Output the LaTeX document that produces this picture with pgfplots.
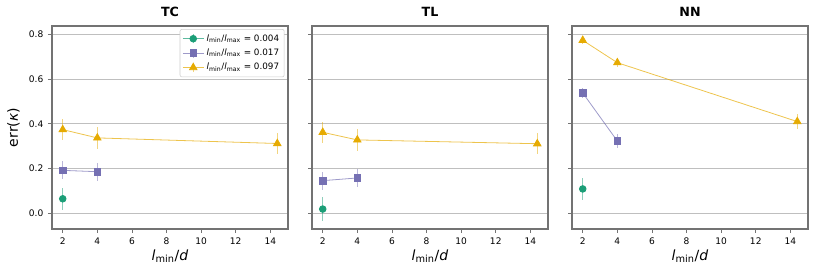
\documentclass[border=0pt]{standalone}
\usepackage{pgfplots}
\pgfplotsset{compat=1.18}
\usepackage{fontspec}
\setmainfont{DejaVu Sans}
\definecolor{cg}{HTML}{1B9E77}
\definecolor{cp}{HTML}{7570B3}
\definecolor{cy}{HTML}{E6AB02}
\pgfplotsset{
 panel/.style={
  scale only axis, width=177pt, height=152.25pt,
  xmin=1.38, xmax=15.02, ymin=-0.07, ymax=0.837,
  xtick={2,4,6,8,10,12,14}, ytick={0,0.2,0.4,0.6,0.8},
  ymajorgrids, grid style={color=black!25, line width=0.8pt},
  axis line style={draw=black!55, line width=0.8pt},
  tick style={draw=black!55, line width=0.6pt}, tick align=outside, tick pos=left, major tick length=3pt,
  ticklabel style={font=\fontsize{6.8}{8}\selectfont},
  /pgf/number format/assume math mode=true,
  y tick label style={/pgf/number format/.cd, fixed, fixed zerofill, precision=1, /tikz/.cd},
  xlabel={\textit{l}\textsubscript{min}/\textit{d}},
  xlabel style={font=\fontsize{10.5}{12}\selectfont, yshift=3pt},
  ylabel style={font=\fontsize{10.5}{12}\selectfont},
  title style={font=\bfseries\fontsize{9.5}{11}\selectfont, yshift=-2.5pt},
  legend image code/.code={
    \draw[mark=none,##1,line width=0.8pt,draw opacity=0.5] (0.275cm,-0.12cm) -- (0.275cm,0.12cm);
    \draw[mark repeat=2,mark phase=2,##1] plot coordinates {(0cm,0cm) (0.275cm,0cm) (0.55cm,0cm)};
  },
 },
 ser/.style={color=#1, line width=0.6pt, draw opacity=0.7,
   mark options={solid, fill=#1, draw opacity=1, fill opacity=1},
   error bars/.cd, y dir=both, y explicit, error mark=none,
   error bar style={line width=0.8pt, draw opacity=0.5}, /pgfplots/.cd},
 sg/.style={mark=*, mark size=2.5pt, ser=cg},
 sp/.style={mark=square*, mark size=2.5pt, ser=cp},
 sy/.style={mark=triangle*, mark size=3.2pt, ser=cy},
}
\begin{document}
\begin{tikzpicture}
\path[use as bounding box] (0,0) rectangle (622.5pt,207.75pt);
% TC
\begin{axis}[panel, at={(39pt,36pt)}, anchor=south west, title={TC},
  ylabel={err(\textit{κ})},
  legend style={at={(0.985,0.985)}, anchor=north east, font=\fontsize{6.6}{7.6}\selectfont,
    draw=black!20, rounded corners=1.5pt, row sep=0.3pt, inner sep=1.8pt},
  legend cell align=left]
\addplot+[sg] coordinates {(2,0.065) +- (0,0.05)};
\addlegendentry{\textit{l}\textsubscript{min}/\textit{l}\textsubscript{max} = 0.004}
\addplot+[sp] coordinates {(2,0.192) +- (0,0.04) (4,0.186) +- (0,0.04)};
\addlegendentry{\textit{l}\textsubscript{min}/\textit{l}\textsubscript{max} = 0.017}
\addplot+[sy] coordinates {(2,0.374) +- (0,0.048) (4,0.337) +- (0,0.048) (14.4,0.312) +- (0,0.048)};
\addlegendentry{\textit{l}\textsubscript{min}/\textit{l}\textsubscript{max} = 0.097}
\end{axis}
% TL
\begin{axis}[panel, at={(234pt,36pt)}, anchor=south west, title={TL}, yticklabels={}]
\addplot+[sg] coordinates {(2,0.019) +- (0,0.052)};
\addplot+[sp] coordinates {(2,0.146) +- (0,0.04) (4,0.158) +- (0,0.04)};
\addplot+[sy] coordinates {(2,0.362) +- (0,0.048) (4,0.328) +- (0,0.048) (14.4,0.311) +- (0,0.048)};
\end{axis}
% NN
\begin{axis}[panel, at={(429pt,36pt)}, anchor=south west, title={NN}, yticklabels={}]
\addplot+[sg] coordinates {(2,0.109) +- (0,0.048)};
\addplot+[sp] coordinates {(2,0.538) +- (0,0.022) (4,0.323) +- (0,0.03)};
\addplot+[sy] coordinates {(2,0.773) +- (0,0.015) (4,0.673) +- (0,0.02) (14.4,0.41) +- (0,0.035)};
\end{axis}
\end{tikzpicture}
\end{document}
